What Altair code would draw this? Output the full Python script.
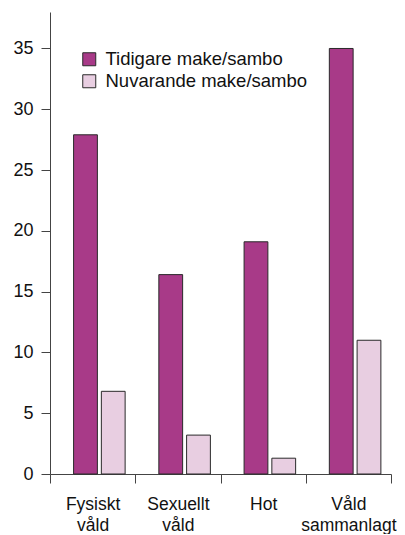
import altair as alt
import pandas as pd

categories = ["Fysiskt våld", "Sexuellt våld", "Hot", "Våld sammanlagt"]
series = ["Tidigare make/sambo", "Nuvarande make/sambo"]
tidigare = [27.9, 16.4, 19.1, 35.0]
nuvarande = [6.8, 3.2, 1.3, 11.0]
y_ticks = [0, 5, 10, 15, 20, 25, 30, 35]
colors = ["#a83a88", "#e8cee1"]

rows = []
for c, a, b in zip(categories, tidigare, nuvarande):
    rows.append({"kategori": c, "grupp": series[0], "varde": a})
    rows.append({"kategori": c, "grupp": series[1], "varde": b})
df = pd.DataFrame(rows)

font = "Liberation Sans"

chart = alt.Chart(df).mark_bar(stroke="#2a2a2a", strokeWidth=1).encode(
    x=alt.X("kategori:N", sort=categories, title=None,
            scale=alt.Scale(paddingInner=0, paddingOuter=0),
            axis=alt.Axis(labelAngle=0, tickBand="extent", labelExpr="split(datum.label, ' ')",
                          labelFontSize=17.5, labelFont=font, labelColor="#111",
                          labelLineHeight=21, labelPadding=12, tickSize=9,
                          domainColor="#444", tickColor="#444", grid=False)),
    xOffset=alt.XOffset("grupp:N", sort=series,
                        scale=alt.Scale(paddingInner=0.143, paddingOuter=0.607, align=0.7)),
    y=alt.Y("varde:Q", title=None,
            scale=alt.Scale(domain=[0, 38], nice=False),
            axis=alt.Axis(values=y_ticks, labelFontSize=18, labelFont=font, labelColor="#111",
                          tickSize=9, labelPadding=8, domainColor="#444", tickColor="#444",
                          grid=False)),
    color=alt.Color("grupp:N", sort=series,
                    scale=alt.Scale(domain=series, range=colors),
                    legend=alt.Legend(title=None, orient="none", legendX=30, legendY=38,
                                      symbolType="square", symbolSize=169,
                                      symbolStrokeColor="#2a2a2a", symbolStrokeWidth=1,
                                      labelFontSize=18.5, labelFont=font, labelColor="#111",
                                      labelOffset=7, rowPadding=3, padding=0, labelLimit=400)),
).properties(
    width=341, height=462,
    autosize=alt.AutoSizeParams(type="none"),
    padding={"left": 42, "top": 4, "right": 6, "bottom": 60},
).configure_view(stroke=None)

chart.save("out.html", embed_options={"renderer": "svg", "actions": False})
